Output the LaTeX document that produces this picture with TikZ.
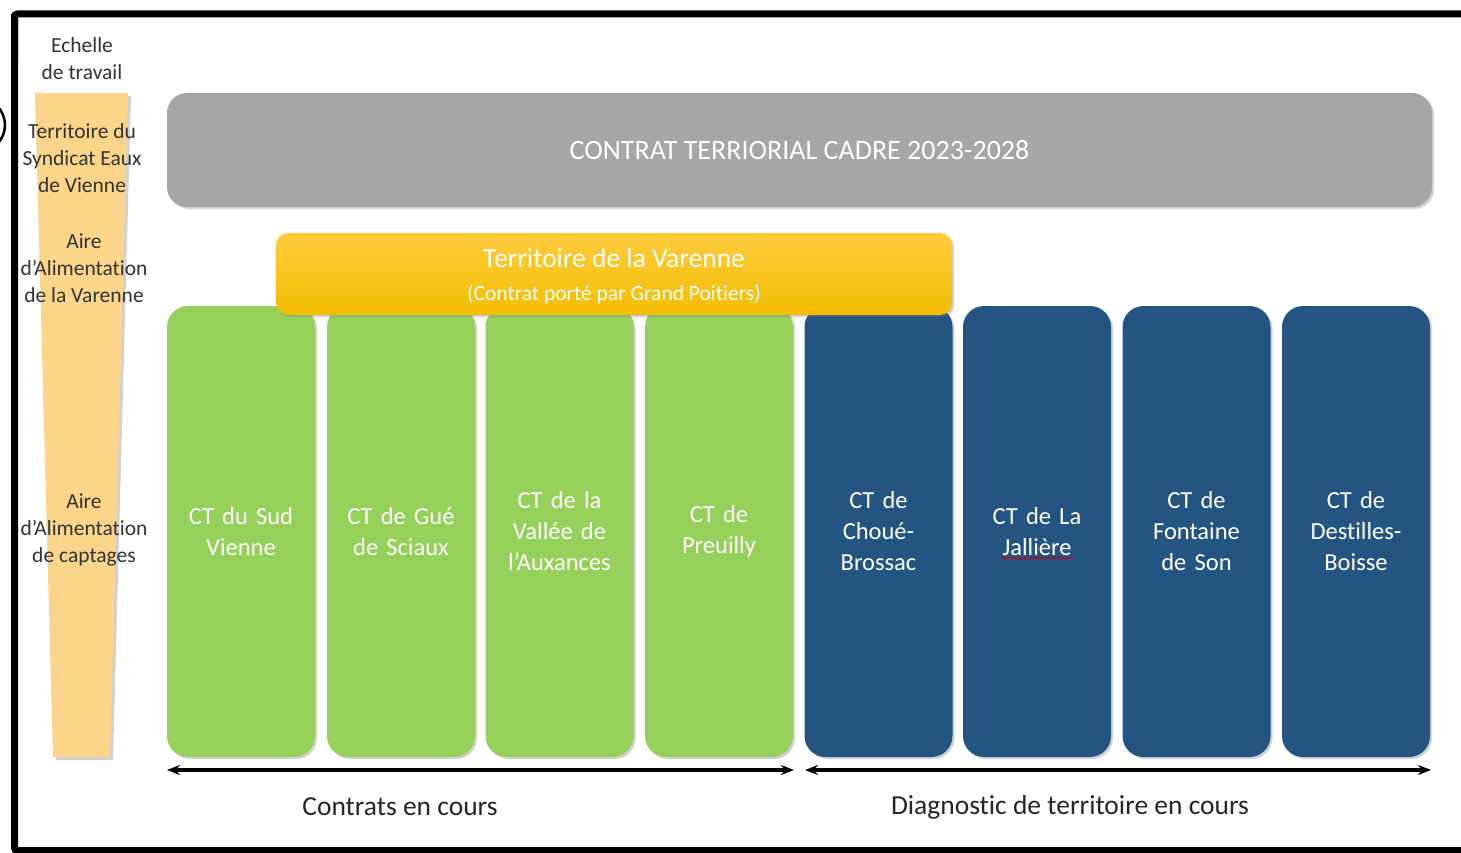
\documentclass[tikz,border=0pt]{standalone}
\usepackage{fontspec}
\setmainfont{Carlito}[Ligatures=NoCommon]
\usetikzlibrary{arrows.meta,shadows,decorations.pathmorphing}
\definecolor{cgray}{HTML}{A6A6A6}
\definecolor{cgreen}{HTML}{95D05A}
\definecolor{cblue}{HTML}{245481}
\definecolor{cband}{HTML}{FDD58A}
\definecolor{cyeltop}{HTML}{FFCB3C}
\definecolor{cyelbot}{HTML}{F3BE00}
\definecolor{ctext}{HTML}{333333}
\tikzset{
  box/.style={rounded corners=21pt, minimum width=148pt, minimum height=451pt,
    text width=146pt, align=center, text=white, inner sep=0pt,
    font=\fontsize{24.5}{31}\selectfont,
    drop shadow={shadow xshift=2pt, shadow yshift=-2pt, opacity=0.35}},
  greenbox/.style={box, fill=cgreen},
  bluebox/.style={box, fill=cblue},
  sidelabel/.style={align=center, text=ctext, font=\fontsize{21.5}{27}\selectfont},
  botlabel/.style={text=black!85, font=\fontsize{27.5}{30}\selectfont},
  span/.style={line width=3.2pt, {Stealth[length=13pt,width=10pt]}-{Stealth[length=13pt,width=10pt]}}
}
\begin{document}
\begin{tikzpicture}[x=1pt,y=-1pt]
\useasboundingbox (0,0) rectangle (1461,853);
\fill[white] (0,0) rectangle (1461,853);
% frame
\draw[line width=7pt, rounded corners=3pt] (14.5,14) -- (14.5,850.5) -- (1475,850.5);
\draw[line width=7pt, rounded corners=3pt] (14.5,60) -- (14.5,14) -- (1475,14);
% partial circle at left edge
\draw[line width=2.5pt] (-22,125) circle[radius=27];
% tapering band
\fill[black, opacity=0.18] (38,96) -- (131,96) -- (113,760) -- (56,760) -- cycle;
\fill[cband] (35,93) -- (128,93) -- (110,757) -- (53,757) -- cycle;
% side labels
\node[sidelabel] (l0) at (82,59) {Echelle\\de travail};
\node[sidelabel] (l1) at (82,158) {Territoire du\\Syndicat Eaux\\de Vienne};
\node[sidelabel] (l2) at (84,268) {Aire\\d’Alimentation\\de la Varenne};
\node[sidelabel] (l3) at (84,530) {Aire\\d’Alimentation\\de captages};
% gray box
\node[fill=cgray, rounded corners=20pt, minimum width=1265pt, minimum height=114pt,
  text=white, font=\fontsize{28}{30}\selectfont,
  drop shadow={shadow xshift=2pt, shadow yshift=-2pt, opacity=0.35}]
  (cadre) at (799.5,150) {CONTRAT TERRIORIAL CADRE 2023-2028};
% green and blue boxes
\node[greenbox] (g1) at (241,531.5) {CT du Sud\\Vienne};
\node[greenbox] (g2) at (401,531.5) {CT de Gué\\de Sciaux};
\node[greenbox] (g3) at (559.5,531.5) {CT de la\\Vallée de\\l’Auxances};
\node[greenbox] (g4) at (719,531.5) {CT de\\Preuilly};
\node[bluebox] (b1) at (878.5,531.5) {CT de\\Choué-\\Brossac};
\node[bluebox] (b2) at (1037,531.5) {CT de La\\Jallière};
\node[bluebox] (b3) at (1196.5,531.5) {CT de\\Fontaine\\de Son};
\node[bluebox] (b4) at (1356,531.5) {CT de\\Destilles-\\Boisse};
% spell-check squiggle under Jallière
\coordinate (sq1) at (1001,558);
\coordinate (sq2) at (1073,558);
\draw[red!80!black, line width=0.9pt, decorate, decoration={snake, amplitude=0.8pt, segment length=4pt}] (sq1) -- (sq2);
% yellow box
\node[rounded corners=12pt, minimum width=676pt, minimum height=82pt,
  top color=cyeltop, bottom color=cyelbot, inner sep=0pt,
  drop shadow={shadow xshift=2pt, shadow yshift=-2pt, opacity=0.35}]
  (varenne) at (614,274) {};
\node[text=white, font=\fontsize{27.5}{30}\selectfont] (vt) at (614,258) {Territoire de la Varenne};
\node[text=white, font=\fontsize{21.5}{24}\selectfont] (vs) at (614,294) {(Contrat porté par Grand Poitiers)};
% spans
\coordinate (s1a) at (167,770);
\coordinate (s1b) at (794,770);
\coordinate (s2a) at (805,770);
\coordinate (s2b) at (1431,770);
\draw[span] (s1a) -- (s1b);
\draw[span] (s2a) -- (s2b);
\node[botlabel] (t1) at (400,807) {Contrats en cours};
\node[botlabel] (t2) at (1070,807) {Diagnostic de territoire en cours};
\end{tikzpicture}
\end{document}
